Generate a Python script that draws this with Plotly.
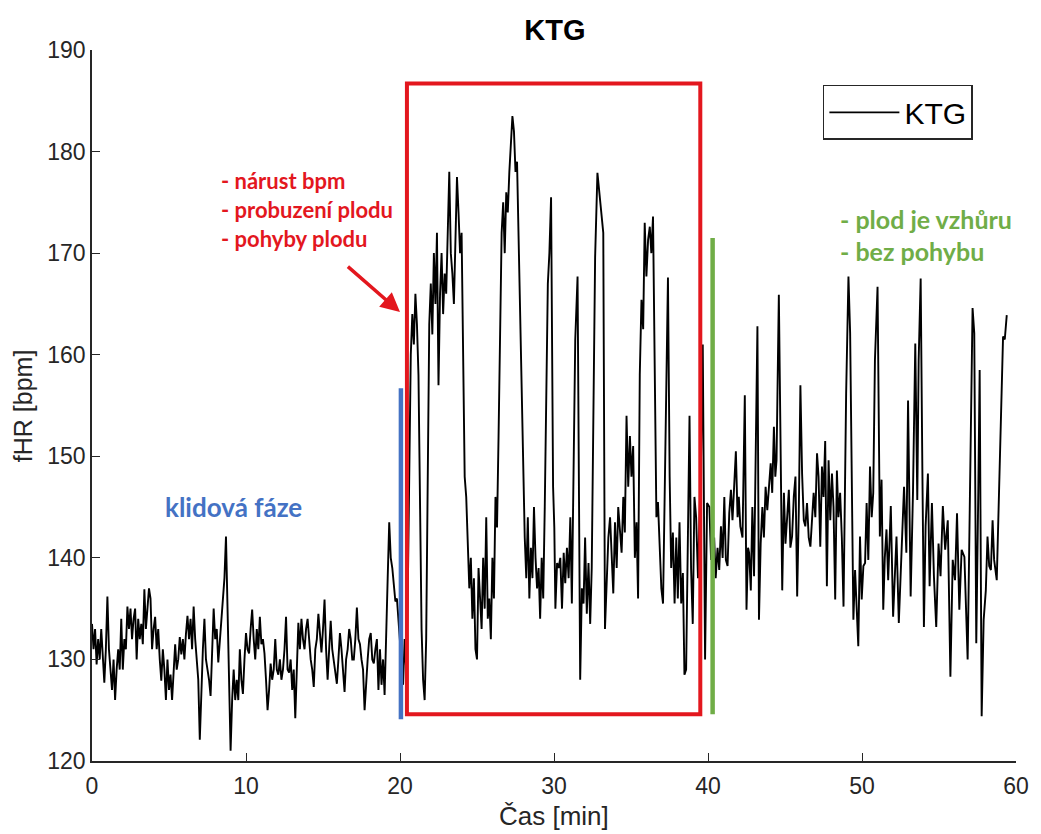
import plotly.graph_objects as go

# ---------------- data ----------------
# phase 1: rest (0-20 min)
t_rest = [0.0,0.1,0.2,0.3,0.4,0.5,0.6,0.7,0.8,0.9,1.0,1.1,1.2,1.3,1.4,1.5,1.6,1.7,1.8,1.9,
          2.0,2.1,2.2,2.3,2.4,2.5,2.6,2.7,2.8,2.9,3.0,3.1,3.2,3.3,3.4,3.5,3.6,3.7,3.8,3.9,
          4.0,4.1,4.2,4.3,4.4,4.5,4.6,4.7,4.8,4.9,5.0,5.1,5.2,5.3,5.4,5.5,5.6,5.7,5.8,5.9,
          6.0,6.1,6.2,6.3,6.4,6.5,6.6,6.7,6.8,6.9,7.0,7.1,7.2,7.3,7.4,7.5,7.6,7.7,7.8,7.9,
          8.0,8.1,8.2,8.3,8.4,8.5,8.6,8.7,8.8,8.9,9.0,9.1,9.2,9.3,9.4,9.5,9.6,9.7,9.8,9.9,
          10.0,10.1,10.2,10.3,10.4,10.5,10.6,10.7,10.8,10.9,11.0,11.1,11.2,11.3,11.4,11.5,11.6,11.7,11.8,11.9,
          12.0,12.1,12.2,12.3,12.4,12.5,12.6,12.7,12.8,12.9,13.0,13.1,13.2,13.3,13.4,13.5,13.6,13.7,13.8,13.9,
          14.0,14.1,14.2,14.3,14.4,14.5,14.6,14.7,14.8,14.9,15.0,15.1,15.2,15.3,15.4,15.5,15.6,15.7,15.8,15.9,
          16.0,16.1,16.2,16.3,16.4,16.5,16.6,16.7,16.8,16.9,17.0,17.1,17.2,17.3,17.4,17.5,17.6,17.7,17.8,17.9,
          18.0,18.1,18.2,18.3,18.4,18.5,18.6,18.7,18.8,18.9,19.0,19.1,19.2,19.3,19.4,19.5,19.6,19.7,19.8,19.9]
bpm_rest = [133.5,131,133,129.5,132,130,133,130,127.7,131,136.2,131,129,127,130,126,129,131,129,134,
            129,132,131,135.2,133,135,132,134,135,130,134,132,133.5,131.5,136.9,133,135,137,136,131,
            133,134.2,131,133,130,127.9,131,129,126,130,127,128.5,126,129,131.5,129,130,132.2,130.5,132,
            130,132.5,134.3,132,134,131,135.2,132,129.6,128,122.1,127,131,134,130,129,128,126.4,131,135,
            132,133,129.7,132,134,135.6,138,142.1,136,128,121,126,129,126,128,126,131,128,126.6,130,
            132.6,131,130.6,133,134.9,132,130,133,131,134.2,131.5,132,130.6,128,125,127,129.6,128,129,132,
            129,128.5,130,128,129,131,134.2,129,128.7,130,127,129,124.2,129,133.6,131,134,132,131,133,
            134,132,130,129,127.3,131,132,134.5,132,130.7,133,135.9,131,128,131,133.8,131,130,129,127.6,
            130,132.6,131,129,126.8,130,131,133,132,130,130,132,135.1,132,131.5,130,129,125,128,130,
            132,132.6,130,129.6,131,132,127,131,127.5,130,126.5,133.8,138,143.5,140,139,137,135.7,136,133.8]

# phase 2: fetal movements (20-40 min)
t_active = [20.0,20.1,20.2,20.3,20.4,20.5,20.6,20.7,20.8,20.9,21.0,21.1,21.2,21.3,21.4,21.5,21.6,21.7,21.8,21.9,
            22.0,22.1,22.2,22.3,22.4,22.5,22.6,22.7,22.8,22.9,23.0,23.1,23.2,23.3,23.4,23.5,23.6,23.7,23.8,23.9,
            24.0,24.1,24.2,24.3,24.4,24.5,24.6,24.7,24.8,24.9,25.0,25.1,25.2,25.3,25.4,25.5,25.6,25.7,25.8,25.9,
            26.0,26.1,26.2,26.3,26.4,26.5,26.6,26.7,26.8,26.9,27.0,27.1,27.2,27.3,27.4,27.5,27.6,27.7,27.8,27.9,
            28.0,28.1,28.2,28.3,28.4,28.5,28.6,28.7,28.8,28.9,29.0,29.1,29.2,29.3,29.4,29.5,29.6,29.7,29.81,29.94,
            30.02,30.09,30.2,30.3,30.41,30.52,30.63,30.73,30.84,30.95,31.06,31.16,31.27,31.38,31.53,31.61,31.7,31.81,31.92,32.02,
            32.13,32.24,32.35,32.45,32.56,32.67,32.82,32.95,33.1,33.2,33.31,33.42,33.53,33.64,33.74,33.85,33.96,34.07,34.17,34.28,
            34.39,34.5,34.6,34.71,34.82,34.93,35.03,35.14,35.25,35.36,35.46,35.57,35.68,35.79,35.89,36.0,36.11,36.22,36.32,36.43,
            36.54,36.65,36.75,36.86,36.97,37.08,37.18,37.29,37.4,37.51,37.61,37.72,37.83,37.94,38.04,38.15,38.26,38.37,38.47,38.58,
            38.69,38.8,38.9,39.01,39.12,39.23,39.35,39.45,39.55,39.66,39.81,39.94]
bpm_active = [131,129,127.5,132,129,136,150,160,164,161,166,163,158,145,133,128,126,132,150,163,
              167,162,170,165,172,157,166,170,164,168,166,172,178,170,168,165,172,177.5,174,170,
              172,160,148,146,141,137,140,134,138,131,130,139,136,133,140,135,144,134,136,132,
              140,136,146,143,152,165,172,175,170,176,174,178,181,183.5,182,178,179,172,165,157,
              148,142,138,144,136,141,138,145,140,137,139,134,140,136,145,155,167,170,175.5,147,
              143,135,139.5,139,140,135,140.5,137.5,141,138,144,135.5,150,161.5,167.7,152,128,137,135.5,142,
              134.5,139.5,133.5,139,158,169.6,177.9,176,174,172,133,138,142,144,139.5,136.5,143.5,139,145,142.5,
              140.5,146,142.5,154,147,152,148,151,140,143.5,136,158,165.4,162.5,173,167.7,171.3,172.6,170,173.6,
              155,144,145.5,140.5,137,135.5,145,158,167.6,148,139,142.5,135.5,142,136,143.5,135.5,138.5,128.5,129,
              141,154,139,133.5,146,144,138,143,150,161,130,145.4]

# phase 3: awake, no movement (40-60 min)
t_awake = [40.09,40.2,40.4,40.5,40.62,40.73,40.84,40.95,41.06,41.16,41.27,41.38,41.49,41.59,41.7,41.81,41.92,42.0,42.1,42.24,
           42.39,42.5,42.6,42.67,42.78,42.88,42.99,43.1,43.21,43.31,43.42,43.53,43.63,43.74,43.85,43.96,44.07,44.17,44.28,44.37,
           44.45,44.6,44.71,44.82,44.93,45.03,45.14,45.25,45.35,45.46,45.57,45.68,45.79,45.9,46.0,46.11,46.22,46.32,46.43,46.54,
           46.65,46.75,46.86,46.97,47.08,47.18,47.29,47.4,47.5,47.61,47.72,47.83,47.94,48.05,48.15,48.26,48.37,48.47,48.58,48.69,
           48.8,48.97,49.12,49.23,49.34,49.44,49.55,49.66,49.76,49.87,49.98,50.09,50.2,50.3,50.41,50.52,50.63,50.73,50.84,51.01,
           51.16,51.27,51.38,51.48,51.59,51.7,51.87,52.02,52.13,52.24,52.39,52.56,52.73,52.88,52.99,53.16,53.31,53.46,53.59,53.68,
           53.81,53.92,54.02,54.13,54.28,54.39,54.54,54.67,54.82,54.97,55.1,55.25,55.4,55.57,55.74,55.89,56.04,56.17,56.32,56.47,
           56.65,56.86,57.03,57.18,57.29,57.42,57.55,57.64,57.77,57.9,58.04,58.15,58.26,58.37,58.48,58.58,58.75,58.9,59.01,59.16,
           59.27,59.34,59.4]
bpm_awake = [145,139.8,142,138,141,138.8,143.1,140,146,139.8,139.2,144.4,146.7,143.7,147,150.5,144,146,143.1,142,
             156,134.9,141,140.5,136.8,145,138.2,150.3,162.8,133.9,141.4,145,142,147,144.7,147,149.3,146.4,152.9,148,
             149.6,165.9,151.3,136.8,146.4,141.4,144,146.7,141,142.1,146,148,136.2,145,157,148.3,143.7,143.1,145.4,142,
             141.1,144,146.4,144,150.3,148,141.1,149,146,151.5,137.2,149.6,143.7,148.3,145,135.9,148.6,144,146.4,142,
             135.2,156.2,167.7,162.1,150,133.9,138.8,135,131.3,142.1,135.9,139.2,139.5,145.4,139.8,149,144,146.4,159.5,166.7,
             142.1,147.7,134.9,140,142.8,137.8,145.1,134.2,139,142.1,133.6,140.5,147,140.5,155.5,136.2,146.4,161.1,145.7,159.5,
             167.5,148.7,133.2,143.1,148.3,137.2,145.4,138.2,133.2,141.4,138.2,145.1,140.8,143.7,128.3,139.8,137.8,144.4,134.9,140.8,
             140.1,130,149.6,164.6,162.1,131.6,146.4,158.5,124.4,133.9,136.8,142.1,139.2,138.8,143.7,139.8,137.8,145.7,152.9,161.8,
             161.5,162.8,163.9]

minutes = t_rest + t_active + t_awake
fhr = bpm_rest + bpm_active + bpm_awake

x_ticks = [0, 10, 20, 30, 40, 50, 60]
y_ticks = [120, 130, 140, 150, 160, 170, 180, 190]

# ---------------- figure ----------------
AX = "#262626"
RED = "#E3171E"
BLUE = "#4472C4"
GREEN = "#70AD47"
BASE = "Liberation Sans, Arial, sans-serif"
CAL = "Lato, Open Sans, sans-serif"

fig = go.Figure()
fig.add_trace(go.Scatter(x=minutes, y=fhr, mode="lines", name="KTG",
                         line=dict(color="black", width=1.9)))

# highlight shapes
fig.add_shape(type="rect", xref="x", yref="y", x0=20.45, x1=39.5, y0=124.6, y1=186.7,
              line=dict(color=RED, width=4))
fig.add_shape(type="line", xref="x", yref="y", x0=20.06, x1=20.06, y0=124.1, y1=156.7,
              line=dict(color=BLUE, width=4.5))
fig.add_shape(type="line", xref="x", yref="y", x0=40.3, x1=40.3, y0=124.6, y1=171.5,
              line=dict(color=GREEN, width=4.5))

# text annotations
fig.add_annotation(x=9.2, y=145.0, xref="x", yref="y", text="<b>klidová fáze</b>",
                   showarrow=False, font=dict(family=CAL, size=26, color=BLUE))
for txt, yy in [("- nárust bpm", 177.2), ("- probuzení plodu", 174.3), ("- pohyby plodu", 171.4)]:
    fig.add_annotation(x=8.26, y=yy, xref="x", yref="y", text="<b>" + txt + "</b>",
                       xanchor="left", yanchor="middle", showarrow=False,
                       font=dict(family=CAL, size=22, color=RED))
for txt, yy in [("- plod je vzhůru", 173.35), ("- bez pohybu", 170.2)]:
    fig.add_annotation(x=48.45, y=yy, xref="x", yref="y", text="<b>" + txt + "</b>",
                       xanchor="left", yanchor="middle", showarrow=False,
                       font=dict(family=CAL, size=25, color=GREEN))
# red arrow
fig.add_annotation(x=20.0, y=164.2, ax=16.52, ay=168.8, xref="x", yref="y", axref="x", ayref="y",
                   text="", showarrow=True, arrowhead=2, arrowsize=1.1, arrowwidth=3.5, arrowcolor=RED)

# axis titles as annotations
fig.add_annotation(x=0.5, y=-0.078, xref="paper", yref="paper", text="Čas [min]",
                   xanchor="center", yanchor="middle",
                   showarrow=False, font=dict(family=BASE, size=26, color=AX))
fig.add_annotation(x=-0.075, y=0.5, xref="paper", yref="paper", text="fHR [bpm]", textangle=-90,
                   xanchor="center", yanchor="middle",
                   showarrow=False, font=dict(family=BASE, size=25, color=AX))

fig.update_layout(
    width=1041, height=834,
    margin=dict(l=92, r=19, t=50, b=73),
    plot_bgcolor="white", paper_bgcolor="white",
    title=dict(text="<b>KTG</b>", x=0.533, xanchor="center", y=1 - 30 / 834, yanchor="middle",
               font=dict(family=BASE, size=29, color="black")),
    showlegend=True,
    legend=dict(x=0.791, y=0.951, xanchor="left", yanchor="top", bgcolor="white",
                bordercolor="#262626", borderwidth=1.5, font=dict(family=BASE, size=30, color="black"),
                itemwidth=70),
    xaxis=dict(range=[0, 60], tickvals=x_ticks, ticktext=[str(v) for v in x_ticks],
               ticks="inside", ticklen=8, tickwidth=1.2, tickcolor=AX,
               showline=True, linecolor=AX, linewidth=1.5, showgrid=False, zeroline=False,
               ticklabelstandoff=4,
               tickfont=dict(family=BASE, size=23, color=AX)),
    yaxis=dict(range=[120, 190], tickvals=y_ticks, ticktext=[str(v) for v in y_ticks],
               ticks="inside", ticklen=8, tickwidth=1.2, tickcolor=AX,
               showline=True, linecolor=AX, linewidth=1.5, showgrid=False, zeroline=False,
               tickfont=dict(family=BASE, size=23, color=AX)),
)

fig.write_html("out.html")
